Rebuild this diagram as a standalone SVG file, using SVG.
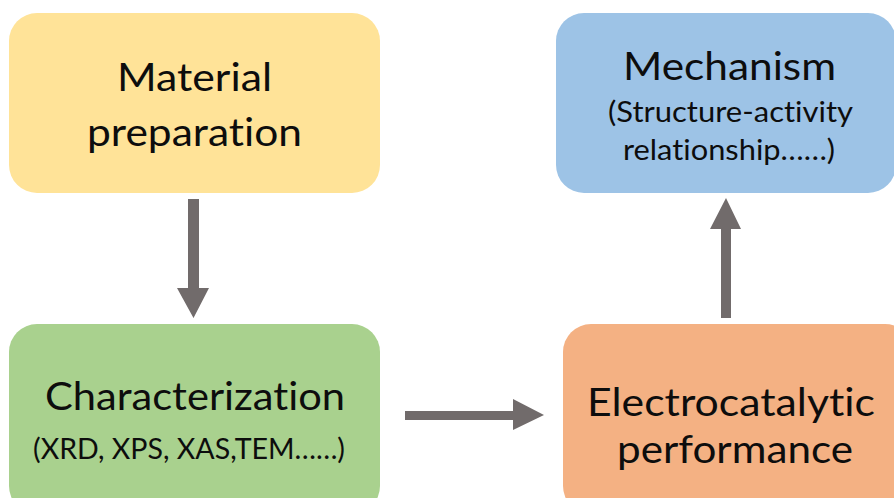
<svg xmlns="http://www.w3.org/2000/svg" width="894" height="498" viewBox="0 0 894 498">
  <defs>
    <style>
      .box { stroke: none; }
      .t { font-family: Lato, "Open Sans", "Liberation Sans", sans-serif; fill: #0d0d0d; text-anchor: middle; font-variant-ligatures: none; font-feature-settings: "liga" 0, "clig" 0; }
      .big { font-size: 38px; }
      .small { font-size: 29px; }
      .arrow { fill: #716b6b; }
    </style>
  </defs>
  <rect width="894" height="498" fill="#ffffff"/>
  <g id="material-preparation">
    <rect class="box" x="9" y="13" width="371" height="180" rx="28" fill="#ffe398"/>
    <text class="t big" x="194.5" y="91" textLength="155" lengthAdjust="spacingAndGlyphs">Material</text>
    <text class="t big" x="194.5" y="146" textLength="215" lengthAdjust="spacingAndGlyphs">preparation</text>
  </g>
  <g id="mechanism">
    <rect class="box" x="556" y="13" width="340" height="180" rx="28" fill="#9dc3e6"/>
    <text class="t big" x="729.5" y="80" textLength="213" lengthAdjust="spacingAndGlyphs">Mechanism</text>
    <text class="t small" x="730.5" y="122" textLength="245" lengthAdjust="spacingAndGlyphs">(Structure-activity</text>
    <text class="t small" x="729" y="160" textLength="212" lengthAdjust="spacingAndGlyphs">relationship……)</text>
  </g>
  <g id="characterization">
    <rect class="box" x="9" y="324" width="371" height="190" rx="28" fill="#a9d18e"/>
    <text class="t big" x="195" y="410" textLength="300" lengthAdjust="spacingAndGlyphs">Characterization</text>
    <text class="t small" x="189" y="459" textLength="312" lengthAdjust="spacingAndGlyphs">(XRD, XPS, XAS,TEM……)</text>
  </g>
  <g id="electrocatalytic-performance">
    <rect class="box" x="563" y="324" width="350" height="190" rx="28" fill="#f4b183"/>
    <text class="t big" x="731" y="416" textLength="288" lengthAdjust="spacingAndGlyphs">Electrocatalytic</text>
    <text class="t big" x="735" y="463" textLength="236" lengthAdjust="spacingAndGlyphs">performance</text>
  </g>
  <g id="connectors">
    <polygon class="arrow" points="188,199 199,199 199,288 209,288 193.5,318 177,288 188,288"/>
    <polygon class="arrow" points="405,411 513,411 513,399 544,415 513,430 513,420 405,420"/>
    <polygon class="arrow" points="721,318 721,229 710,229 726,198 741,229 731,229 731,318"/>
  </g>
</svg>
